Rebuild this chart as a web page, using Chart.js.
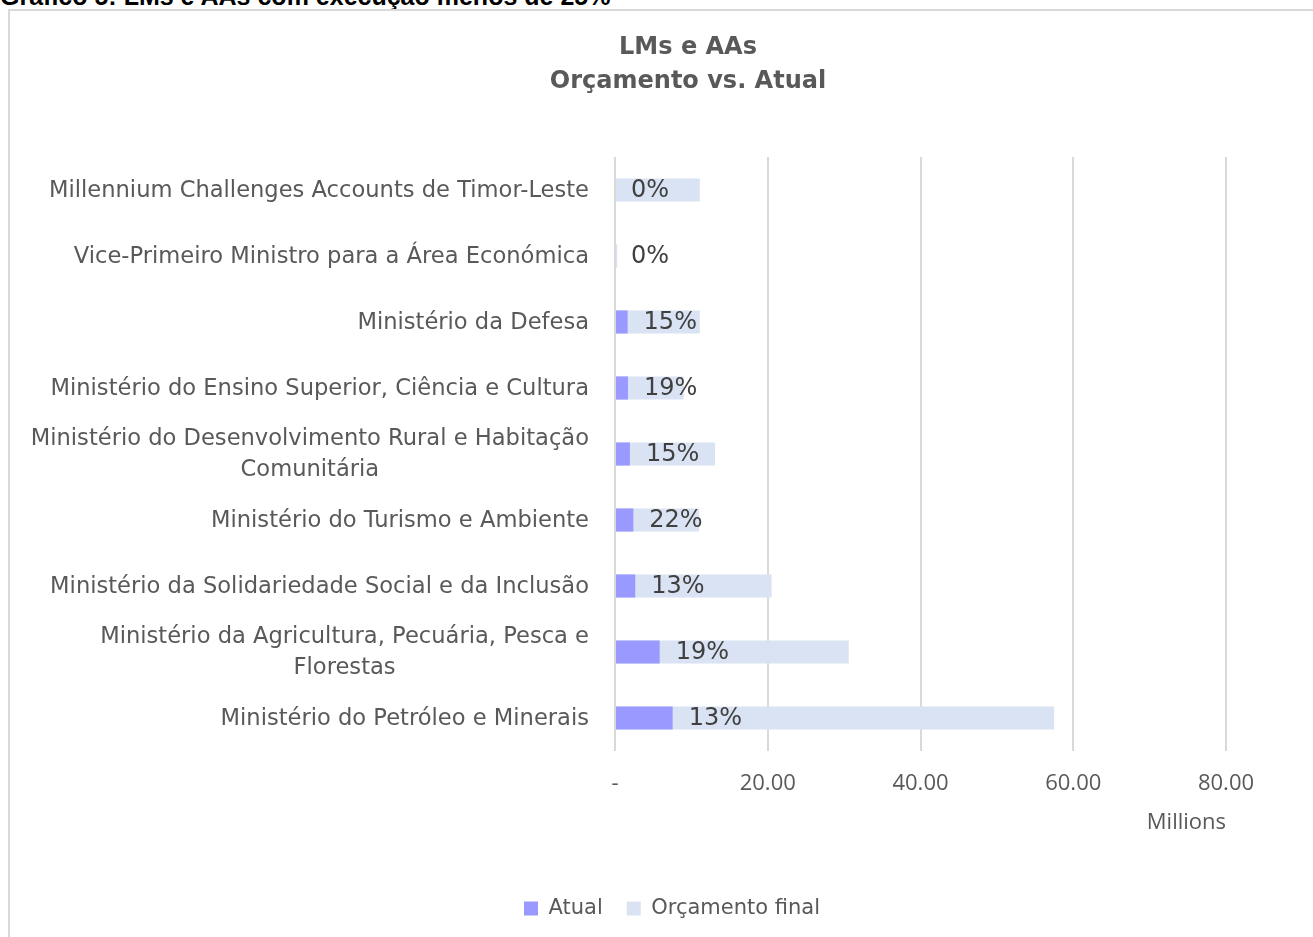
<!DOCTYPE html>
<html>
<head>
<meta charset="utf-8">
<script src="https://cdn.jsdelivr.net/npm/chart.js@4"></script>
<style>
    html, body { margin: 0; padding: 0; background: #fff; overflow: hidden; }
    #caption {
        position: absolute; left: 0; top: -16px;
        font: bold 25px 'Liberation Sans', Arial, sans-serif;
        line-height: 25px; color: #000; white-space: nowrap;
    }
    #frame {
        position: absolute; left: 8px; top: 9px; width: 1400px; height: 1000px;
        border-top: 2px solid #d9d9d9; border-left: 2px solid #d9d9d9;
    }
    #chart { position: absolute; left: 0; top: 0; }
</style>
</head>
<body>
<div id="caption">Gráfico 5: LMs e AAs com execução menos de 25%</div>
<div id="frame"></div>
<canvas id="chart" width="1313" height="937"></canvas>
<script>
// dados (milhões)
const categories = [
    'Millennium Challenges Accounts de Timor-Leste',
    'Vice-Primeiro Ministro para a Área Económica',
    'Ministério da Defesa',
    'Ministério do Ensino Superior, Ciência e Cultura',
    ['Ministério do Desenvolvimento Rural e Habitação', 'Comunitária'],
    'Ministério do Turismo e Ambiente',
    'Ministério da Solidariedade Social e da Inclusão',
    ['Ministério da Agricultura, Pecuária, Pesca e', 'Florestas'],
    'Ministério do Petróleo e Minerais'
];
const atual = [0, 0, 1.65, 1.7, 1.95, 2.4, 2.65, 5.85, 7.55];
const orcamentoFinal = [11.1, 0.3, 11.1, 9.0, 13.1, 11.0, 20.5, 30.6, 57.5];
const pctLabels = ['0%', '0%', '15%', '19%', '15%', '22%', '13%', '19%', '13%'];
const xTicks = [0, 20, 40, 60, 80];
const titleLines = ['LMs e AAs', 'Orçamento vs. Atual'];

const labelFont = "22.6px 'DejaVu Sans', sans-serif";

// título, centrado como no Excel
const titlePlugin = {
    id: 'titlePlugin',
    afterDraw(chart) {
        const ctx = chart.ctx;
        ctx.save();
        ctx.font = "bold 24px 'DejaVu Sans', sans-serif";
        ctx.fillStyle = '#595959';
        ctx.textAlign = 'center';
        ctx.textBaseline = 'middle';
        titleLines.forEach((t, k) => ctx.fillText(t, 688, 48 + k * 34));
        ctx.restore();
    }
};

// rótulos das categorias, centrados quando têm duas linhas
const categoryLabels = {
    id: 'categoryLabels',
    afterDraw(chart) {
        const ctx = chart.ctx;
        const yScale = chart.scales.y;
        const right = chart.chartArea.left - 26;
        const lineH = 31;
        ctx.save();
        ctx.font = labelFont;
        ctx.fillStyle = '#595959';
        ctx.textAlign = 'center';
        ctx.textBaseline = 'middle';
        categories.forEach((lab, i) => {
            const lines = Array.isArray(lab) ? lab : [lab];
            const widest = Math.max(...lines.map(l => ctx.measureText(l).width));
            const cx = right - widest / 2;
            const cy = yScale.getPixelForValue(i) + 1;
            lines.forEach((l, k) => {
                ctx.fillText(l, cx, cy + (k - (lines.length - 1) / 2) * lineH);
            });
        });
        ctx.restore();
    }
};

// percentagens à direita da barra "Atual"
const pctPlugin = {
    id: 'pctPlugin',
    afterDatasetsDraw(chart) {
        const ctx = chart.ctx;
        const meta = chart.getDatasetMeta(0);
        ctx.save();
        ctx.font = "24px 'DejaVu Sans', sans-serif";
        ctx.fillStyle = '#404040';
        ctx.textAlign = 'left';
        ctx.textBaseline = 'middle';
        meta.data.forEach((bar, i) => {
            ctx.fillText(pctLabels[i], bar.x + 16, bar.y + 1);
        });
        ctx.restore();
    }
};

new Chart(document.getElementById('chart'), {
    type: 'bar',
    data: {
        labels: categories,
        datasets: [
            {
                label: 'Atual',
                data: atual,
                backgroundColor: '#9999ff',
                borderWidth: 0,
                grouped: false,
                categoryPercentage: 1,
                barPercentage: 0.35
            },
            {
                label: 'Orçamento final',
                data: orcamentoFinal,
                backgroundColor: '#dae3f3',
                borderWidth: 0,
                grouped: false,
                categoryPercentage: 1,
                barPercentage: 0.35
            }
        ]
    },
    options: {
        indexAxis: 'y',
        responsive: false,
        animation: false,
        layout: { padding: { left: 118, right: 87, top: 157, bottom: 8 } },
        plugins: {
            tooltip: { enabled: false },
            title: { display: false },
            legend: {
                position: 'bottom',
                labels: {
                    color: '#595959',
                    font: { family: "'DejaVu Sans', sans-serif", size: 21 },
                    boxWidth: 14,
                    boxHeight: 14,
                    padding: 24
                }
            }
        },
        scales: {
            x: {
                min: 0,
                max: 80,
                afterBuildTicks: (scale) => { scale.ticks = xTicks.map(v => ({ value: v })); },
                afterFit: (scale) => { scale.height = 123; },
                grid: { color: '#d9d9d9', lineWidth: 2, drawTicks: false },
                border: { display: false },
                ticks: {
                    padding: 20,
                    color: '#595959',
                    font: { family: "'Open Sans', sans-serif", size: 22 },
                    callback: (v) => v === 0 ? '-' : v.toFixed(2)
                },
                title: {
                    display: true,
                    text: 'Millions',
                    align: 'end',
                    color: '#595959',
                    font: { family: "'Open Sans', sans-serif", size: 22 },
                    padding: { top: 0, bottom: 38 }
                }
            },
            y: {
                afterFit: (scale) => { scale.width = 497; },
                grid: { display: false },
                border: { display: false },
                ticks: { display: false }
            }
        }
    },
    plugins: [categoryLabels, pctPlugin, titlePlugin]
});
</script>
</body>
</html>
